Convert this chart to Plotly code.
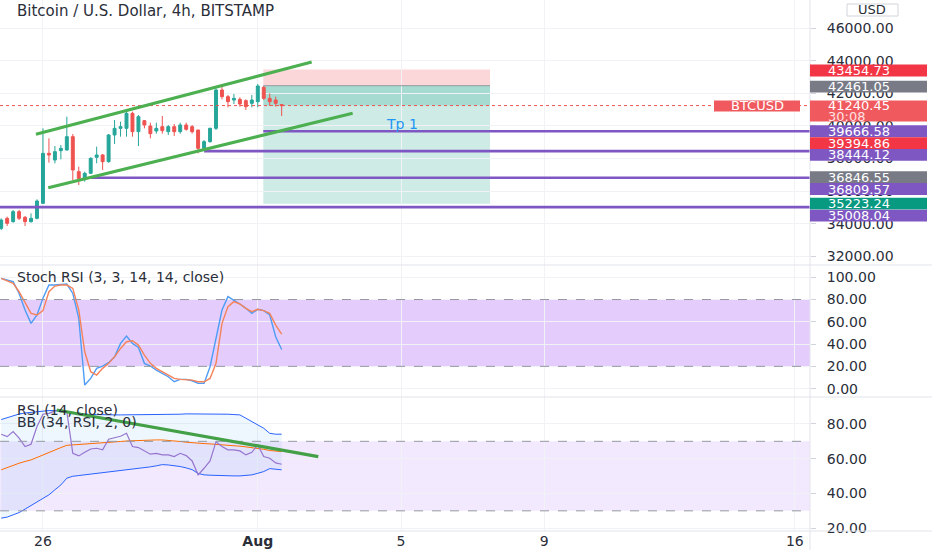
import pandas as pd
import plotly.graph_objects as go

# BTC/USD 4h candles (Bitstamp), 24 Jul - 1 Aug 2021
times = pd.date_range("2021-07-24 20:00", periods=48, freq="4h")

opens = [33710, 34323, 34119, 34732, 34385, 34119, 34323, 35244, 38311, 37902,
         38475, 38515, 39333, 37186, 36777, 37084, 38066, 38209, 37800, 39436,
         39845, 39845, 40765, 39640, 40315, 39988, 39681, 39947, 39640, 39947,
         39640, 40049, 39947, 39743, 38618, 39027, 39845, 42197, 41788, 41583,
         41624, 41542, 41379, 41481, 42360, 41685, 41583, 41300]
highs = [34323, 34425, 34835, 34835, 34466, 34630, 35489, 39845, 39231, 38761,
         38822, 40560, 39497, 37493, 37186, 38066, 38720, 38270, 39497, 40356,
         40254, 40867, 40867, 40663, 40356, 40192, 40192, 40601, 40049, 40111,
         40192, 40192, 40049, 39743, 39129, 39886, 42299, 42401, 41890, 41951,
         41747, 41624, 41890, 42565, 42442, 41992, 41788, 41338]
lows = [33607, 33853, 34058, 34221, 33853, 34058, 34262, 35203, 37738, 37698,
        37943, 38475, 36675, 36368, 36573, 37043, 37698, 37289, 37738, 38884,
        39333, 39333, 39333, 38761, 39845, 39231, 39518, 39518, 39436, 39374,
        39518, 39702, 39518, 38311, 38515, 38965, 39743, 41624, 41133, 41338,
        41174, 40970, 41133, 41133, 41583, 41215, 41174, 40601]
closes = [34221, 34017, 34732, 34323, 34119, 34323, 35387, 38311, 38209, 38413,
          38618, 39333, 37289, 36777, 37084, 38004, 38209, 37800, 39436, 39845,
          39947, 40765, 39640, 40560, 40049, 39518, 39845, 39702, 39947, 39640,
          40049, 39783, 39640, 38618, 39027, 39845, 42197, 41788, 41481, 41685,
          41338, 41174, 41583, 42442, 41685, 41481, 41379, 41240.45]

stoch_k = [99.0, 97.5, 96.0, 85.5, 70.6, 58.6, 66.1, 81.1, 93.0, 93.0,
           93.6, 93.9, 85.5, 63.1, 3.2, 9.2, 18.2, 20.3, 23.3, 28.6,
           40.6, 47.2, 40.6, 37.0, 22.7, 20.3, 16.7, 13.7, 10.7, 6.2,
           8.3, 8.3, 7.1, 4.7, 4.7, 19.7, 46.6, 70.6, 82.6, 79.6,
           76.0, 72.1, 67.6, 71.2, 70.0, 66.1, 46.6, 35.2]
stoch_d = [99.0, 96.9, 94.5, 87.0, 76.6, 67.6, 66.1, 70.0, 87.0, 92.1,
           93.0, 93.0, 90.0, 70.6, 33.1, 15.2, 12.2, 18.2, 22.7, 28.6,
           36.1, 42.1, 43.0, 39.1, 30.1, 22.7, 18.2, 15.2, 12.2, 9.2,
           8.3, 7.7, 7.7, 6.2, 6.2, 9.2, 22.7, 58.6, 73.6, 78.1,
           76.0, 72.1, 69.1, 71.2, 70.0, 67.6, 57.1, 49.0]

rsi = [74.1, 72.7, 75.6, 71.8, 67.0, 68.3, 78.5, 85.6, 86.1, 87.5,
       88.1, 87.1, 63.1, 61.6, 63.7, 65.6, 66.0, 65.1, 71.2, 72.1,
       72.9, 74.6, 67.0, 66.4, 64.5, 62.6, 63.1, 62.2, 62.2, 61.2,
       63.1, 61.8, 58.7, 50.7, 54.5, 58.7, 69.8, 67.0, 65.1, 65.1,
       64.5, 62.2, 63.7, 67.9, 61.2, 60.3, 57.6, 56.8]
bb_upper = [82.5, 83.6, 84.8, 85.7, 86.3, 86.7, 87.3, 87.7, 87.7, 87.7,
            87.3, 86.7, 86.3, 85.9, 85.6, 85.4, 85.4, 85.2, 85.2, 85.2,
            85.2, 85.2, 85.2, 85.2, 85.2, 85.2, 85.2, 85.4, 85.4, 85.6,
            85.6, 85.8, 85.8, 85.9, 85.9, 85.8, 85.8, 85.6, 85.6, 85.4,
            85.2, 83.3, 81.3, 79.8, 77.5, 74.6, 74.1, 74.1]
bb_basis = [53.6, 54.9, 56.3, 57.4, 58.4, 59.3, 60.7, 62.2, 63.5, 65.1,
            66.4, 67.7, 67.9, 68.1, 68.3, 68.5, 68.7, 68.9, 69.3, 69.5,
            69.9, 70.2, 70.4, 70.6, 70.6, 70.8, 70.8, 70.8, 70.6, 70.2,
            69.9, 69.5, 69.1, 68.9, 68.7, 68.5, 68.3, 68.1, 67.7, 67.5,
            67.2, 66.8, 66.4, 66.0, 65.4, 64.7, 64.3, 64.1]
bb_lower = [25.8, 26.4, 27.7, 29.0, 31.0, 33.1, 35.0, 36.9, 39.2, 42.1,
            44.9, 48.8, 49.9, 50.3, 50.7, 51.1, 51.5, 51.8, 52.2, 52.6,
            53.0, 53.4, 54.0, 54.3, 54.7, 55.3, 55.9, 56.6, 56.4, 56.1,
            55.5, 54.7, 53.7, 51.5, 50.7, 50.5, 50.3, 50.1, 50.1, 50.1,
            50.1, 50.3, 50.7, 51.6, 52.6, 54.3, 54.1, 53.6]

price_ticks = list(range(32000, 46001, 2000))
stoch_ticks = [0, 20, 40, 60, 80, 100]
rsi_ticks = [20, 40, 60, 80]
date_ticks = ["2021-07-26", "2021-08-01", "2021-08-05", "2021-08-09", "2021-08-16"]
date_labels = ["26", "<b>Aug</b>", "5", "9", "16"]

# drawings on the chart
upper_channel_x = ["2021-07-25 19:18", "2021-08-02 12:07"]
upper_channel_y = [39478, 43914]
lower_channel_x = ["2021-07-26 03:33", "2021-08-03 15:36"]
lower_channel_y = [36202, 40767]
rsi_trend_x = ["2021-07-26 09:11", "2021-08-02 16:33"]
rsi_trend_y = [88.0, 61.2]

level_starts = ["2021-08-01 03:42", "2021-07-30 12:00", "2021-07-27 08:00", "2021-07-24 00:00"]
level_prices = [39666.58, 38444.12, 36809.57, 35008.04]

entry_price = 42461.05
stop_price = 43454.73
target_price = 35223.24
last_price = 41240.45
position_x = ["2021-08-01 03:42", "2021-08-07 11:40"]
tp_label_x = "2021-08-05 00:40"
tp_label_y = 40110

scale_prices = [43454.73, 42461.05, 39666.58, 39394.86, 38444.12,
                36846.55, 36809.57, 35223.24, 35008.04]
scale_colors = ["#f23645", "#787b86", "#7e57c2", "#f23645", "#7e57c2",
                "#787b86", "#7e57c2", "#089981", "#7e57c2"]
scale_shift = [1, 1, 0, 7.6, 3.8, 0, 11.2, 0, 8.5]   # px pushed down to avoid overlap

x_range = ["2021-07-24 19:12", "2021-08-16 10:10"]
price_range = [31460, 47718]
stoch_range = [-7.5, 111]
rsi_range = [18.4, 95.5]

UP, DOWN = "#26a69a", "#ef5350"
GRID = "#f0f2f6"
TXT = "#2a2e39"
FONT = "DejaVu Sans"
PLOT_W, PLOT_H = 810, 531
dom_price = [1 - 265 / PLOT_H, 1]
dom_stoch = [1 - 397 / PLOT_H, 1 - 265 / PLOT_H]
dom_rsi = [0, 1 - 397 / PLOT_H]
ppx = (price_range[1] - price_range[0]) / 265.0   # price units per pixel

fig = go.Figure()

fig.add_trace(go.Candlestick(
    x=times, open=opens, high=highs, low=lows, close=closes,
    increasing=dict(line=dict(color=UP, width=1), fillcolor=UP),
    decreasing=dict(line=dict(color=DOWN, width=1), fillcolor=DOWN),
    whiskerwidth=0, xaxis="x", yaxis="y", hoverinfo="skip"))

fig.add_trace(go.Scatter(x=times, y=stoch_k, mode="lines", line=dict(color="#4e9cf5", width=1.4),
                         xaxis="x2", yaxis="y2"))
fig.add_trace(go.Scatter(x=times, y=stoch_d, mode="lines", line=dict(color="#f5835a", width=1.4),
                         xaxis="x2", yaxis="y2"))

fig.add_trace(go.Scatter(x=times, y=bb_upper, mode="lines", line=dict(color="#2962ff", width=1),
                         xaxis="x3", yaxis="y3"))
fig.add_trace(go.Scatter(x=times, y=bb_lower, mode="lines", line=dict(color="#2962ff", width=1),
                         fill="tonexty", fillcolor="rgba(33,150,243,0.08)", xaxis="x3", yaxis="y3"))
fig.add_trace(go.Scatter(x=times, y=bb_basis, mode="lines", line=dict(color="#ff6d00", width=1),
                         xaxis="x3", yaxis="y3"))
fig.add_trace(go.Scatter(x=times, y=rsi, mode="lines", line=dict(color="#9575cd", width=1.2),
                         xaxis="x3", yaxis="y3"))

shapes = []
# indicator bands
shapes.append(dict(type="rect", xref="x2 domain", yref="y2", x0=0, x1=1, y0=20, y1=80,
                   fillcolor="rgba(170,100,245,0.32)", line=dict(width=0), layer="below"))
shapes.append(dict(type="rect", xref="x3 domain", yref="y3", x0=0, x1=1, y0=30, y1=70,
                   fillcolor="rgba(170,100,245,0.14)", line=dict(width=0), layer="below"))
for ax, lv in [("y2", 20), ("y2", 80), ("y3", 30), ("y3", 70)]:
    xr = "x2 domain" if ax == "y2" else "x3 domain"
    shapes.append(dict(type="line", xref=xr, yref=ax, x0=0, x1=1, y0=lv, y1=lv,
                       line=dict(color="#9598a1", width=1, dash="dash")))

# short position tool
shapes.append(dict(type="rect", xref="x", yref="y", x0=position_x[0], x1=position_x[1],
                   y0=entry_price, y1=stop_price, fillcolor="rgba(242,54,69,0.2)",
                   line=dict(width=0), layer="below"))
shapes.append(dict(type="rect", xref="x", yref="y", x0=position_x[0], x1=position_x[1],
                   y0=target_price, y1=entry_price, fillcolor="rgba(8,153,129,0.2)",
                   line=dict(width=0), layer="below"))
shapes.append(dict(type="rect", xref="x", yref="y", x0=position_x[0], x1=position_x[1],
                   y0=last_price, y1=entry_price, fillcolor="rgba(8,153,129,0.2)",
                   line=dict(width=0), layer="below"))
shapes.append(dict(type="line", xref="x", yref="y", x0=position_x[0], x1=position_x[1],
                   y0=entry_price, y1=entry_price, line=dict(color="#9598a1", width=1)))

# last price dotted line
shapes.append(dict(type="line", xref="x domain", yref="y", x0=0, x1=1, y0=last_price, y1=last_price,
                   line=dict(color="#ef5350", width=1, dash="dot")))

# horizontal levels
for xs, lv in zip(level_starts, level_prices):
    shapes.append(dict(type="line", xref="x", yref="y", x0=xs, x1=x_range[1], y0=lv, y1=lv,
                       line=dict(color="#7e57c2", width=2.6)))

# channel + rsi trend lines
shapes.append(dict(type="line", xref="x", yref="y", x0=upper_channel_x[0], x1=upper_channel_x[1],
                   y0=upper_channel_y[0], y1=upper_channel_y[1], line=dict(color="#4caf50", width=3.2)))
shapes.append(dict(type="line", xref="x", yref="y", x0=lower_channel_x[0], x1=lower_channel_x[1],
                   y0=lower_channel_y[0], y1=lower_channel_y[1], line=dict(color="#4caf50", width=3.2)))
shapes.append(dict(type="line", xref="x3", yref="y3", x0=rsi_trend_x[0], x1=rsi_trend_x[1],
                   y0=rsi_trend_y[0], y1=rsi_trend_y[1], line=dict(color="#43a047", width=3.2)))

# pane separators
for yb in [dom_stoch[1], dom_rsi[1], 0]:
    shapes.append(dict(type="line", xref="paper", yref="paper", x0=0, x1=932 / PLOT_W, y0=yb, y1=yb,
                       line=dict(color="#e0e3eb", width=1)))
shapes.append(dict(type="line", xref="paper", yref="paper", x0=1, x1=1, y0=-19 / PLOT_H, y1=1,
                   line=dict(color="#e0e3eb", width=1)))

annotations = []
box_x1 = 1 + 117 / PLOT_W
for p, c, s in zip(scale_prices, scale_colors, scale_shift):
    mid = p - s * ppx
    shapes.append(dict(type="rect", xref="paper", yref="y", x0=1, x1=box_x1,
                       y0=mid - 5.9 * ppx, y1=mid + 5.9 * ppx, fillcolor=c, line=dict(width=0)))
    annotations.append(dict(xref="paper", yref="y", x=1, y=p, xanchor="left", yanchor="middle",
                            xshift=16, yshift=-s, text=f"{p:.2f}", showarrow=False,
                            font=dict(family=FONT, size=13, color="white")))

# last price label (two lines) and symbol tag
shapes.append(dict(type="rect", xref="paper", yref="y", x0=1, x1=box_x1,
                   y0=last_price - 16 * ppx, y1=last_price + 5.2 * ppx, fillcolor="#f05a5e", line=dict(width=0)))
shapes.append(dict(type="rect", xref="paper", yref="y", x0=714 / PLOT_W, x1=800 / PLOT_W,
                   y0=last_price - 6 * ppx, y1=last_price + 5.2 * ppx, fillcolor="#f05a5e", line=dict(width=0)))
annotations.append(dict(xref="paper", yref="y", x=1, y=last_price, xanchor="left", yanchor="middle",
                        xshift=16, text=f"{last_price:.2f}", showarrow=False,
                        font=dict(family=FONT, size=13, color="white")))
annotations.append(dict(xref="paper", yref="y", x=1, y=last_price, xanchor="left", yanchor="middle",
                        xshift=16, yshift=-11, text="30:08", showarrow=False,
                        font=dict(family=FONT, size=13, color="#ffe0e0")))
annotations.append(dict(xref="paper", yref="y", x=757 / PLOT_W, y=last_price, xanchor="center",
                        yanchor="middle", text="BTCUSD", showarrow=False,
                        font=dict(family=FONT, size=13, color="white")))

# currency box
shapes.append(dict(type="rect", xref="paper", yref="paper", x0=847 / PLOT_W, x1=898 / PLOT_W,
                   y0=1 - 16 / PLOT_H, y1=1 - 4 / PLOT_H, fillcolor="white",
                   line=dict(color="#d1d4dc", width=1)))
annotations.append(dict(xref="paper", yref="paper", x=872.5 / PLOT_W, y=1 - 10 / PLOT_H,
                        xanchor="center", yanchor="middle", text="USD", showarrow=False,
                        font=dict(family=FONT, size=13, color=TXT)))

# titles
annotations.append(dict(xref="paper", yref="paper", x=15 / PLOT_W, y=1 - 11 / PLOT_H, xanchor="left",
                        yanchor="middle", text="Bitcoin / U.S. Dollar, 4h, BITSTAMP", showarrow=False,
                        font=dict(family=FONT, size=15, color=TXT)))
annotations.append(dict(xref="paper", yref="paper", x=15 / PLOT_W, y=1 - 277 / PLOT_H, xanchor="left",
                        yanchor="middle", text="Stoch RSI (3, 3, 14, 14, close)", showarrow=False,
                        font=dict(family=FONT, size=14, color=TXT)))
annotations.append(dict(xref="paper", yref="paper", x=15 / PLOT_W, y=1 - 410 / PLOT_H, xanchor="left",
                        yanchor="middle", text="RSI (14, close)", showarrow=False,
                        font=dict(family=FONT, size=14, color=TXT)))
annotations.append(dict(xref="paper", yref="paper", x=15 / PLOT_W, y=1 - 422 / PLOT_H, xanchor="left",
                        yanchor="middle", text="BB (34, RSI, 2, 0)", showarrow=False,
                        font=dict(family=FONT, size=14, color=TXT)))
annotations.append(dict(xref="x", yref="y", x=tp_label_x, y=tp_label_y, text="Tp 1", showarrow=False,
                        font=dict(family=FONT, size=14, color="#2196f3")))

xbase = dict(showgrid=True, gridcolor=GRID, zeroline=False, showline=False, tickvals=date_ticks,
             showticklabels=False, ticks="")
ybase = dict(side="right", showgrid=True, gridcolor=GRID, zeroline=False, showline=False,
             ticks="outside", ticklen=5, tickcolor="#d1d4dc", ticklabelstandoff=8,
             tickfont=dict(family=FONT, size=14, color=TXT), tickformat=".2f")

fig.update_layout(
    width=932, height=550,
    margin=dict(l=0, r=122, t=0, b=19),
    paper_bgcolor="white", plot_bgcolor="white",
    showlegend=False,
    font=dict(family=FONT, size=12, color=TXT),
    xaxis=dict(xbase, domain=[0, 1], anchor="y", range=x_range, rangeslider=dict(visible=False)),
    xaxis2=dict(xbase, domain=[0, 1], anchor="y2", matches="x"),
    xaxis3=dict(xbase, domain=[0, 1], anchor="y3", matches="x", showticklabels=True,
                ticktext=date_labels, tickfont=dict(family=FONT, size=14, color=TXT)),
    yaxis=dict(ybase, domain=dom_price, anchor="x", range=price_range, tickvals=price_ticks),
    yaxis2=dict(ybase, domain=dom_stoch, anchor="x2", range=stoch_range, tickvals=stoch_ticks),
    yaxis3=dict(ybase, domain=dom_rsi, anchor="x3", range=rsi_range, tickvals=rsi_ticks),
    shapes=shapes,
    annotations=annotations,
)

# the browser page has an 8px body margin by default; drop it so the chart fills the window
fig.write_html("out.html", config={"displayModeBar": False},
               post_script="document.body.style.margin='0';")
